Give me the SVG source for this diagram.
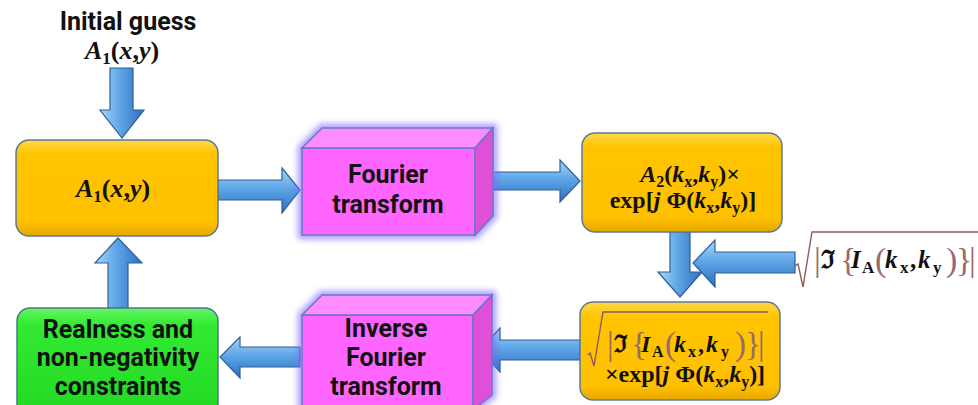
<svg xmlns="http://www.w3.org/2000/svg" width="978" height="405" viewBox="0 0 978 405">
<defs>
<linearGradient id="gH" x1="0" y1="0" x2="0" y2="1">
<stop offset="0" stop-color="#a9d6f7"/><stop offset="0.45" stop-color="#5ea6e6"/><stop offset="1" stop-color="#2f6fbf"/>
</linearGradient>
<linearGradient id="gV" x1="0" y1="0" x2="1" y2="0">
<stop offset="0" stop-color="#a9d6f7"/><stop offset="0.45" stop-color="#5ea6e6"/><stop offset="1" stop-color="#2f6fbf"/>
</linearGradient>
<linearGradient id="gY" x1="0" y1="0" x2="0" y2="1">
<stop offset="0" stop-color="#ffd84a"/><stop offset="0.15" stop-color="#ffc400"/><stop offset="0.85" stop-color="#ffc000"/><stop offset="1" stop-color="#e6a800"/>
</linearGradient>
<linearGradient id="gG" x1="0" y1="0" x2="0" y2="1">
<stop offset="0" stop-color="#66f566"/><stop offset="0.15" stop-color="#33ea33"/><stop offset="1" stop-color="#22d822"/>
</linearGradient>
<filter id="glow" x="-20%" y="-20%" width="140%" height="140%">
<feGaussianBlur stdDeviation="3"/>
</filter>
<style>
.arrow{stroke:#2e5f96;stroke-width:1.2;stroke-linejoin:miter}
.ah{fill:url(#gH)}
.av{fill:url(#gV)}
.ybox{fill:url(#gY);stroke:#5b7a99;stroke-width:1.5}
.gbox{fill:url(#gG);stroke:#4a7a8a;stroke-width:1.5}
.front{fill:#ff66ff;stroke:#6a78c8;stroke-width:1.5}
.top{fill:#ff8cff;stroke:#6a78c8;stroke-width:1.5}
.side{fill:#e04fd8;stroke:#6a78c8;stroke-width:1.5}
.halo{fill:none;stroke:#7b6cff;stroke-width:8;opacity:0.7}
.sans{font-family:Roboto,"Liberation Sans",sans-serif;font-weight:700;font-size:25px;fill:#111;text-anchor:middle}
.math{font-family:"Liberation Serif","DejaVu Serif",serif;font-weight:700;fill:#111}
.mi{font-style:italic}
.br{fill:#9a6a6a;font-weight:400}
.rad{fill:none;stroke:#8c5c5c;stroke-width:1.4}
</style>
</defs>

<g id="initial-guess">
<text class="sans" x="128" y="30">Initial guess</text>
<text class="math" x="122" y="59" font-size="26" text-anchor="middle"><tspan class="mi">A</tspan><tspan font-size="17" dy="5">1</tspan><tspan dy="-5">(</tspan><tspan class="mi">x</tspan>,<tspan class="mi">y</tspan>)</text>
</g>

<g id="connectors">
<polygon class="arrow av" points="110,68 133,68 133,110 144,110 122,138 100,110 110,110"/>
<polygon class="arrow ah" points="218,180 282,180 282,168 300,190 282,213 282,200 218,200"/>
<polygon class="arrow ah" points="478,172 560,172 560,160 580,181 560,202 560,190 478,190"/>
<polygon class="arrow av" points="670,232 690,232 690,272 702,272 680,297 658,272 670,272"/>
<polygon class="arrow ah" points="795,252 715,252 715,240 693,263 715,287 715,273 795,273"/>
<polygon class="arrow ah" points="580,340 500,340 500,328 480,350 500,372 500,360 580,360"/>
<polygon class="arrow ah" points="300,347 240,347 240,337 220,357 240,378 240,367 300,367"/>
<polygon class="arrow av" points="108,308 128,308 128,263 142,263 118,238 95,263 108,263"/>
</g>

<g id="box-a1">
<rect class="ybox" x="16" y="140" width="202" height="96" rx="13"/>
<text class="math" x="113" y="197" font-size="26" text-anchor="middle"><tspan class="mi">A</tspan><tspan font-size="17" dy="5">1</tspan><tspan dy="-5">(</tspan><tspan class="mi">x</tspan>,<tspan class="mi">y</tspan>)</text>
</g>

<g id="fourier">
<polygon class="halo" filter="url(#glow)" points="302,148 322,128 493,128 493,216 475,235 302,235"/>
<polygon class="front" points="302,148 475,148 475,235 302,235"/>
<polygon class="top" points="302,148 322,128 493,128 475,148"/>
<polygon class="side" points="475,148 493,128 493,216 475,235"/>
<text class="sans" x="388" y="183">Fourier</text>
<text class="sans" x="388" y="213">transform</text>
</g>

<g id="box-a2">
<rect class="ybox" x="582" y="133" width="200" height="99" rx="13"/>
<text class="math" x="690" y="182" font-size="24" text-anchor="middle"><tspan class="mi">A</tspan><tspan font-size="16" dy="5">2</tspan><tspan dy="-5">(</tspan><tspan class="mi">k</tspan><tspan font-size="16" dy="5">x</tspan><tspan dy="-5">,</tspan><tspan class="mi">k</tspan><tspan font-size="16" dy="5">y</tspan><tspan dy="-5">)×</tspan></text>
<text class="math" x="683" y="208" font-size="24" text-anchor="middle">exp[<tspan class="mi">j</tspan> Φ(<tspan class="mi">k</tspan><tspan font-size="16" dy="5">x</tspan><tspan dy="-5">,</tspan><tspan class="mi">k</tspan><tspan font-size="16" dy="5">y</tspan><tspan dy="-5">)]</tspan></text>
</g>

<g id="measured-amplitude">
<polyline class="rad" points="795,266 798,264 803,287 812,232 978,232"/>
<text class="math" font-size="25"><tspan class="br" x="814" y="271" font-size="34">|</tspan><tspan x="821" y="268">ℑ</tspan><tspan class="br" x="840" y="271" font-size="34">{</tspan><tspan class="mi" x="851" y="268">I</tspan><tspan x="862" y="273" font-size="17">A</tspan><tspan class="br" x="875" y="271" font-size="34">(</tspan><tspan class="mi" x="885" y="268">k</tspan><tspan x="900" y="273" font-size="17">x</tspan><tspan x="910" y="268">,</tspan><tspan class="mi" x="918" y="268">k</tspan><tspan x="933" y="273" font-size="17">y</tspan><tspan class="br" x="946" y="271" font-size="34">)</tspan><tspan class="br" x="956" y="271" font-size="34">}</tspan><tspan class="br" x="969" y="271" font-size="34">|</tspan></text>
</g>

<g id="box-update">
<rect class="ybox" x="580" y="302" width="200" height="98" rx="13"/>
<polyline class="rad" points="588,355 590,353 594,366 603,312 768,312"/>
<text class="math" font-size="24"><tspan class="br" x="607" y="355" font-size="33">|</tspan><tspan x="614" y="352">ℑ</tspan><tspan class="br" x="631" y="355" font-size="33">{</tspan><tspan class="mi" x="641" y="352">I</tspan><tspan x="652" y="357" font-size="16">A</tspan><tspan class="br" x="665" y="355" font-size="33">(</tspan><tspan class="mi" x="674" y="352">k</tspan><tspan x="688" y="357" font-size="16">x</tspan><tspan x="698" y="352">,</tspan><tspan class="mi" x="706" y="352">k</tspan><tspan x="721" y="357" font-size="16">y</tspan><tspan class="br" x="735" y="355" font-size="33">)</tspan><tspan class="br" x="745" y="355" font-size="33">}</tspan><tspan class="br" x="758" y="355" font-size="33">|</tspan></text>
<text class="math" x="685" y="382" font-size="24" text-anchor="middle">×exp[<tspan class="mi">j</tspan> Φ(<tspan class="mi">k</tspan><tspan font-size="16" dy="5">x</tspan><tspan dy="-5">,</tspan><tspan class="mi">k</tspan><tspan font-size="16" dy="5">y</tspan><tspan dy="-5">)]</tspan></text>
</g>

<g id="inverse-fourier">
<polygon class="halo" filter="url(#glow)" points="302,315 322,295 492,295 492,395 473,410 302,410"/>
<polygon class="front" points="302,315 473,315 473,410 302,410"/>
<polygon class="top" points="302,315 322,295 492,295 473,315"/>
<polygon class="side" points="473,315 492,295 492,395 473,410"/>
<text class="sans" x="386" y="337">Inverse</text>
<text class="sans" x="386" y="366">Fourier</text>
<text class="sans" x="386" y="395">transform</text>
</g>

<g id="constraints">
<rect class="gbox" x="17" y="308" width="201" height="110" rx="13"/>
<text class="sans" x="118" y="338">Realness and</text>
<text class="sans" x="118" y="366">non-negativity</text>
<text class="sans" x="118" y="395">constraints</text>
</g>
</svg>
